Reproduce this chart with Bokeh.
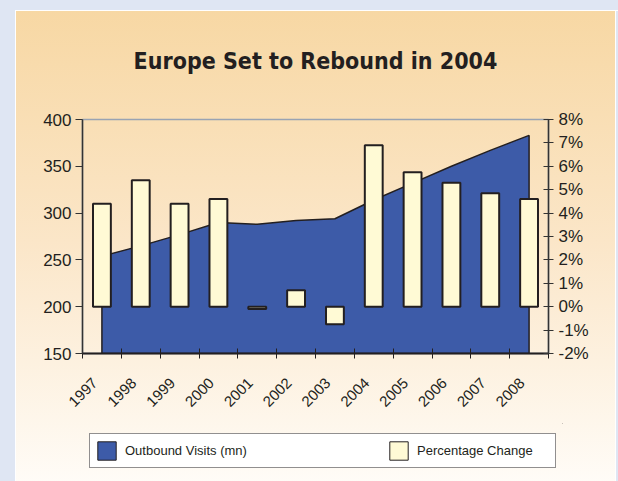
import math
from bokeh.plotting import figure
from bokeh.layouts import column
from bokeh.models import Range1d, LinearAxis, FixedTicker, PrintfTickFormatter, Legend, LegendItem
from bokeh.embed import file_html
from bokeh.resources import INLINE

# ---- data ----
years = ["1997", "1998", "1999", "2000", "2001", "2002", "2003", "2004", "2005", "2006", "2007", "2008"]
visits = [254, 265, 277, 290, 288, 292, 294, 314, 332, 350, 367, 383]
pct_change = [4.4, 5.4, 4.4, 4.6, -0.1, 0.7, -0.75, 6.9, 5.75, 5.3, 4.85, 4.6]
left_ticks = [150, 200, 250, 300, 350, 400]
right_ticks = [-2, -1, 0, 1, 2, 3, 4, 5, 6, 7, 8]

# category centres on a numeric scale
xc = [i + 0.5 for i in range(len(years))]
bounds = list(range(len(years) + 1))
label_pos = [c - 0.18 for c in xc]   # rotated labels sit just left of the centre

INK = "#231f20"
FONT = "Liberation Sans"
AREA_COLOR = "#3d5ba8"
BAR_COLOR = "#fffad5"

p = figure(frame_width=466, frame_height=234, x_range=Range1d(0, len(years)), y_range=Range1d(150, 400),
           output_backend="svg", toolbar_location=None,
           min_border_left=82, min_border_right=70, min_border_top=118, min_border_bottom=70)
p.extra_y_ranges = {"pct": Range1d(-2, 8)}

p.background_fill_color = None
p.border_fill_color = None
p.outline_line_color = "#98a3b3"
p.outline_line_width = 1.5
p.xgrid.visible = False
p.ygrid.visible = False

# area (outbound visits)
area_x = [xc[0]] + xc + [xc[-1]]
area_y = [150] + visits + [150]
area = p.patch(area_x, area_y, fill_color=AREA_COLOR, line_color=INK, line_width=1.5)

# bars (percentage change)
bars = p.vbar(x=xc, top=pct_change, bottom=0, width=0.46, y_range_name="pct",
              fill_color=BAR_COLOR, line_color=INK, line_width=2)

# title
p.title.text = "Europe Set to Rebound in 2004"
p.title.text_font = "DejaVu Sans Condensed"
p.title.text_font_style = "bold"
p.title.text_font_size = "23px"
p.title.text_color = INK
p.title.align = "center"
p.title.standoff = 91

# bottom axis
xa = p.xaxis[0]
xa.ticker = FixedTicker(ticks=label_pos, minor_ticks=bounds)
xa.major_label_overrides = {c: y for c, y in zip(label_pos, years)}
xa.major_label_orientation = math.pi / 4
xa.major_tick_line_color = None
xa.major_tick_out = 5
xa.major_tick_in = 0
xa.minor_tick_in = 5
xa.minor_tick_out = 5
xa.minor_tick_line_color = INK
xa.minor_tick_line_width = 1
xa.axis_line_color = INK
xa.axis_line_width = 2
xa.major_label_text_font = FONT
xa.major_label_text_font_size = "15px"
xa.major_label_text_color = INK
xa.major_label_standoff = 22

# left axis
ya = p.yaxis[0]
ya.ticker = FixedTicker(ticks=left_ticks)
ya.major_tick_in = 0
ya.major_tick_out = 7
ya.minor_tick_line_color = None
ya.axis_line_color = "#333333"
ya.axis_line_width = 1.5
ya.major_tick_line_color = "#333333"
ya.major_label_text_font = FONT
ya.major_label_text_font_size = "17px"
ya.major_label_text_color = INK
ya.major_label_standoff = 4

# right axis
ra = LinearAxis(y_range_name="pct", ticker=FixedTicker(ticks=right_ticks),
                formatter=PrintfTickFormatter(format="%d%%"))
ra.major_tick_in = 5
ra.major_tick_out = 5
ra.minor_tick_line_color = None
ra.axis_line_color = "#333333"
ra.axis_line_width = 1.5
ra.major_tick_line_color = "#333333"
ra.major_label_text_font = FONT
ra.major_label_text_font_size = "17px"
ra.major_label_text_color = INK
ra.major_label_standoff = 5
p.add_layout(ra, "right")

# ---- legend strip (its own small figure under the chart) ----
p2 = figure(frame_width=480, frame_height=59, output_backend="svg", toolbar_location=None,
            x_range=Range1d(0, 1), y_range=Range1d(0, 1),
            x_axis_location=None, y_axis_location=None,
            min_border_left=76, min_border_right=62, min_border_top=0, min_border_bottom=0)
p2.background_fill_color = None
p2.border_fill_color = None
p2.outline_line_color = None
p2.grid.visible = False
# legend key proxies: same styles as the chart's marks, kept outside the strip's visible range
key_area = p2.patch(x=[5, 6, 6], y=[5, 5, 6], fill_color=AREA_COLOR, line_color=INK, line_width=1)
key_bars = p2.vbar(x=[5], top=[6], bottom=[5], width=0.5, fill_color=BAR_COLOR, line_color=INK, line_width=1)

legend = Legend(items=[LegendItem(label="Outbound Visits (mn)", renderers=[key_area]),
                       LegendItem(label="Percentage Change", renderers=[key_bars])],
                orientation="horizontal", ncols=2, location=(7, 14),
                glyph_width=23, glyph_height=23, label_standoff=7,
                label_width=133, spacing=129, padding=5, margin=0,
                border_line_color=INK, border_line_width=1,
                background_fill_color="white", background_fill_alpha=1,
                label_text_font=FONT, label_text_font_size="13px", label_text_color=INK)
p2.add_layout(legend, "center")

layout = column(p, p2, spacing=0, styles={
    "background": "linear-gradient(180deg, #f7d7a2 0%, #fbe6c8 50%, #fffcf7 100%)",
    "box-shadow": ("inset 15px 10px 0 0 #dfe6f3, inset 16px 11px 0 0 #ffffff, "
                   "inset -2px 0 0 0 #dfe6f3, inset -3px 0 0 0 #ffffff"),
})

open("out.html", "w").write(file_html(layout, INLINE))
